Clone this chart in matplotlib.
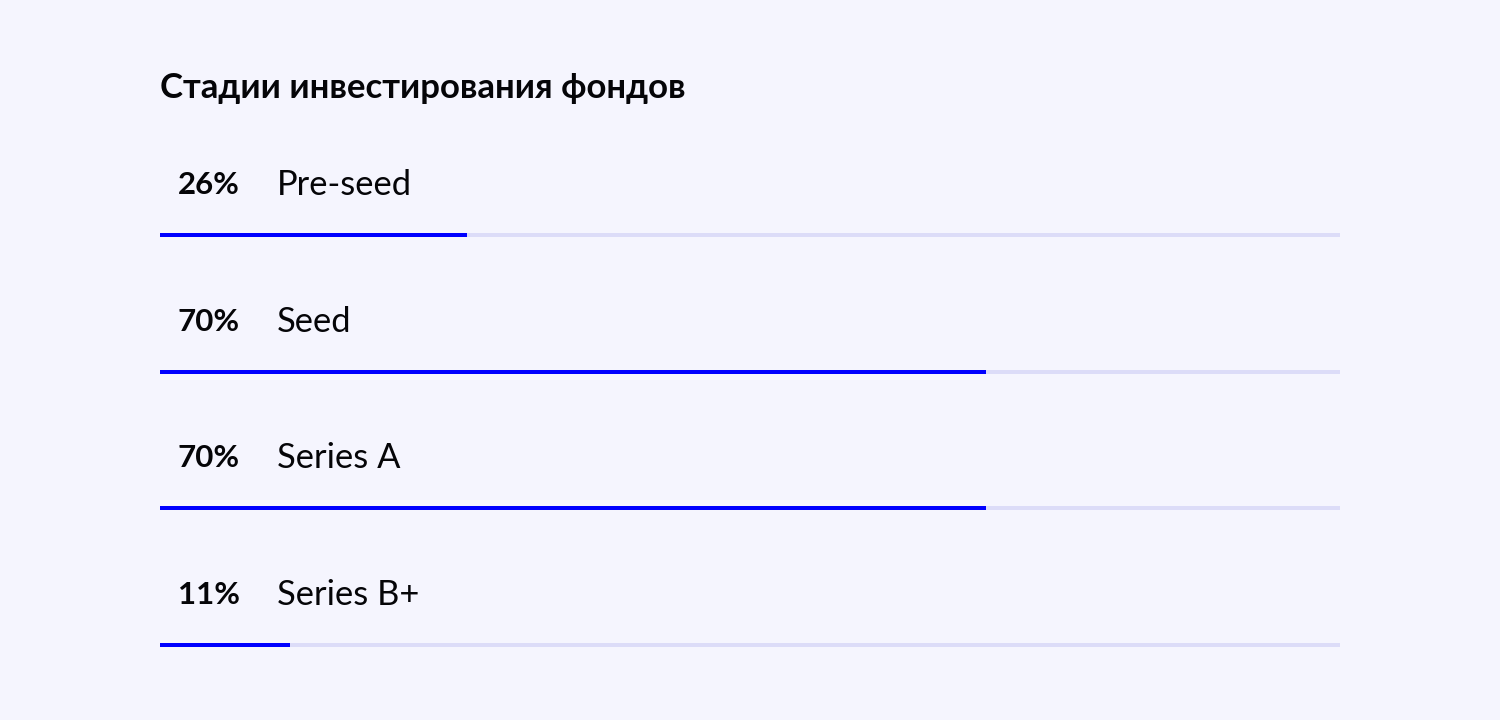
import matplotlib
matplotlib.use("Agg")
from matplotlib import pyplot as plt

title = "Стадии инвестирования фондов"
stages = ["Pre-seed", "Seed", "Series A", "Series B+"]
shares = [26, 70, 70, 11]

bg = "#F5F5FE"
blue = "#0000FF"
track = "#DCDCF8"

plt.rcParams['font.family'] = ['Lato', 'DejaVu Sans']

fig = plt.figure(figsize=(15, 7.2), dpi=100, facecolor=bg)
ax = fig.add_axes([0, 0, 1, 1])
ax.set_facecolor(bg)
ax.set_xlim(0, 1500)
ax.set_ylim(720, 0)
ax.axis('off')

left, width = 160, 1180
ax.text(left, 88, title, fontsize=25, fontweight='bold', color='#050508',
        va='center', ha='left')

for i, (stage, share) in enumerate(zip(stages, shares)):
    y_bar = 235 + i * 136.7
    y_txt = y_bar - 50
    ax.barh(y_bar, width, left=left, height=4, color=track)
    ax.barh(y_bar, width * share / 100, left=left, height=4, color=blue)
    ax.text(209, y_txt, f"{share}%", fontsize=22.5, fontweight='bold',
            color='#050508', ha='center', va='center')
    ax.text(277, y_txt, stage, fontsize=24.8, color='#050508',
            ha='left', va='center')

fig.savefig("out.png", dpi=100, facecolor=bg)
